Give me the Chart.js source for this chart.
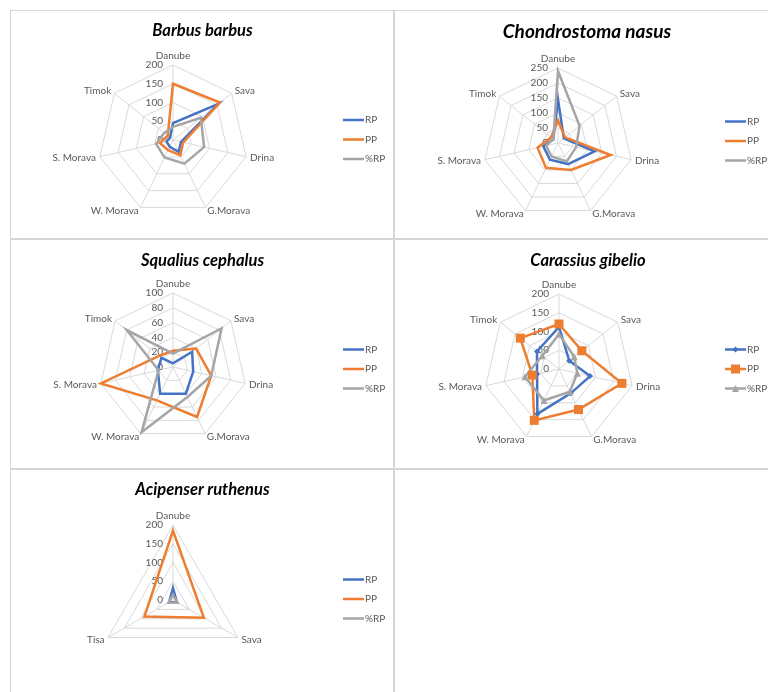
<!DOCTYPE html>
<html>
<head>
<meta charset="utf-8">
<script src="https://cdn.jsdelivr.net/npm/chart.js@4.4.1/dist/chart.umd.min.js"></script>
<style>
  html, body { margin: 0; padding: 0; background: #ffffff; }
  body { width: 768px; height: 692px; position: relative; overflow: hidden; font-family: Lato, sans-serif; }
  canvas { position: absolute; }
  .rule { position: absolute; background: #d6d6d6; }
</style>
</head>
<body>
<!-- panel frame lines -->
<div class="rule" style="left:10px;top:10px;width:758px;height:1px"></div>
<div class="rule" style="left:10px;top:10px;width:1px;height:682px"></div>
<div class="rule" style="left:393px;top:10px;width:2px;height:682px"></div>
<div class="rule" style="left:10px;top:238px;width:758px;height:2px"></div>
<div class="rule" style="left:10px;top:468px;width:758px;height:2px"></div>

<canvas id="barbus"></canvas>
<canvas id="chondrostoma"></canvas>
<canvas id="squalius"></canvas>
<canvas id="carassius"></canvas>
<canvas id="acipenser"></canvas>

<script>
// Rivers (axes) and series names
const rivers = ['Danube', 'Sava', 'Drina', 'G.Morava', 'W. Morava', 'S. Morava', 'Timok'];
const sterletRivers = ['Danube', 'Sava', 'Tisa'];
const seriesNames = ['RP', 'PP', '%RP'];

// Barbus barbus
const barbusRP  = [45, 155, 22, 35, 20, 18, 10];
const barbusPP  = [150, 160, 28, 45, 30, 36, 18];
const barbusPct = [35, 95, 85, 70, 52, 46, 30];
const barbusTicks = [0, 50, 100, 150, 200];

// Chondrostoma nasus
const nasusRP  = [145, 25, 125, 78, 62, 50, 20];
const nasusPP  = [75, 30, 180, 100, 92, 70, 30];
const nasusPct = [240, 92, 62, 68, 50, 40, 20];
const nasusTicks = [0, 50, 100, 150, 200, 250];

// Squalius cephalus
const chubRP  = [5, 33, 28, 40, 40, 21, 20];
const chubPP  = [22, 40, 53, 75, 50, 100, 24];
const chubPct = [18, 84, 53, 45, 98, 20, 80];
const chubTicks = [0, 20, 40, 60, 80, 100];

// Carassius gibelio
const gibelioRP  = [112, 35, 85, 72, 133, 60, 75];
const gibelioPP  = [120, 78, 172, 120, 152, 73, 132];
const gibelioPct = [93, 52, 50, 67, 93, 93, 57];
const gibelioTicks = [0, 50, 100, 150, 200];

// Acipenser ruthenus
const sterletRP  = [32, 12, 12];
const sterletPP  = [185, 95, 88];
const sterletPct = [14, 14, 14];
const sterletTicks = [0, 50, 100, 150, 200];

const COLORS = ['#4472C4', '#ED7D31', '#A5A5A5'];
const TEXT = '#595959';
const GRID = '#d9d9d9';

function drawMarker(ctx, style, x, y, size) {
  ctx.beginPath();
  if (style === 'rect') {
    ctx.rect(x - size / 2, y - size / 2, size, size);
  } else if (style === 'rectRot') {
    ctx.moveTo(x, y - size / 2); ctx.lineTo(x + size / 2, y);
    ctx.lineTo(x, y + size / 2); ctx.lineTo(x - size / 2, y);
    ctx.closePath();
  } else if (style === 'triangle') {
    ctx.moveTo(x, y - size / 2); ctx.lineTo(x + size / 2, y + size / 2);
    ctx.lineTo(x - size / 2, y + size / 2); ctx.closePath();
  }
  ctx.fill();
}

// Axis labels (river names + ring values) under the series lines
const axisText = {
  id: 'axisText',
  beforeDatasetsDraw(chart) {
    const s = chart.scales.r, ctx = chart.ctx;
    ctx.save();
    ctx.fillStyle = TEXT;
    ctx.font = '10px Lato';
    chart.data.labels.forEach((lab, i) => {
      const p = s.getPointPosition(i, s.drawingArea + 4);
      let align = 'center';
      if (p.x > s.xCenter + 1) align = 'left';
      else if (p.x < s.xCenter - 1) align = 'right';
      ctx.textAlign = align;
      ctx.textBaseline = i === 0 ? 'bottom' : 'middle';
      ctx.fillText(lab, p.x, p.y);
    });
    ctx.textAlign = 'right';
    ctx.textBaseline = 'middle';
    s.ticks.forEach(t => {
      const d = s.getDistanceFromCenterForValue(t.value);
      ctx.fillText(t.label, s.xCenter - 10, s.yCenter - d);
    });
    ctx.restore();
  }
};

// Title and legend
const frameText = {
  id: 'frameText',
  afterDraw(chart, args, o) {
    const ctx = chart.ctx;
    ctx.save();
    ctx.fillStyle = '#000000';
    ctx.font = 'italic bold ' + o.titleSize + 'px Lato';
    ctx.textAlign = 'center';
    ctx.textBaseline = 'middle';
    ctx.fillText(o.title, o.titleX, o.titleY);

    ctx.font = '10px Lato';
    ctx.textAlign = 'left';
    chart.data.datasets.forEach((ds, i) => {
      const y = o.legendY + i * 19.5;
      ctx.strokeStyle = ds.borderColor;
      ctx.lineWidth = 2.5;
      ctx.beginPath();
      ctx.moveTo(o.legendX, y);
      ctx.lineTo(o.legendX + 21, y);
      ctx.stroke();
      if (ds.pointRadius > 0) {
        ctx.fillStyle = ds.borderColor;
        drawMarker(ctx, ds.pointStyle, o.legendX + 10.5, y, ds.markerSize);
      }
      ctx.fillStyle = TEXT;
      ctx.fillText(ds.label, o.legendX + 22, y);
    });
    ctx.restore();
  }
};

// Markers drawn at the library's point positions
const markers = {
  id: 'markers',
  afterDatasetsDraw(chart) {
    const ctx = chart.ctx;
    ctx.save();
    chart.data.datasets.forEach((ds, i) => {
      if (!(ds.pointRadius > 0)) return;
      const meta = chart.getDatasetMeta(i);
      ctx.fillStyle = ds.borderColor;
      meta.data.forEach(pt => drawMarker(ctx, ds.pointStyle, pt.x, pt.y, ds.markerSize));
    });
    ctx.restore();
  }
};

function makePanel(cfg) {
  const el = document.getElementById(cfg.id);
  el.width = cfg.w; el.height = cfg.h;
  el.style.left = cfg.left + 'px';
  el.style.top = cfg.top + 'px';
  const cx = cfg.cx - cfg.left, cy = cfg.cy - cfg.top, r = cfg.r;
  const styles = cfg.markers || [null, null, null];
  const sizes = cfg.markerSizes || [0, 0, 0];
  const datasets = cfg.series.map((vals, i) => ({
    label: seriesNames[i],
    data: vals,
    borderColor: COLORS[i],
    backgroundColor: COLORS[i],
    borderWidth: 2.5,
    fill: false,
    tension: 0,
    pointRadius: styles[i] ? 0.01 : 0,
    pointStyle: styles[i] || 'circle',
    markerSize: sizes[i],
    order: 3 - i
  }));
  new Chart(el, {
    type: 'radar',
    data: { labels: cfg.labels, datasets },
    options: {
      responsive: false,
      animation: false,
      devicePixelRatio: 1,
      layout: {
        padding: { left: cx - r, right: cfg.w - (cx + r), top: cy - r, bottom: cfg.h - (cy + r) }
      },
      plugins: {
        legend: { display: false },
        tooltip: { enabled: false },
        frameText: {
          title: cfg.title, titleSize: cfg.titleSize || 16.5,
          titleX: cfg.titleX - cfg.left, titleY: cfg.titleY - cfg.top,
          legendX: cfg.legendX - cfg.left, legendY: cfg.legendY - cfg.top
        }
      },
      scales: {
        r: {
          min: cfg.ticks[0],
          max: cfg.ticks[cfg.ticks.length - 1],
          ticks: { display: false, stepSize: cfg.ticks[1] - cfg.ticks[0] },
          pointLabels: { display: false },
          grid: { color: GRID, lineWidth: 1 },
          angleLines: { color: GRID, lineWidth: 1 }
        }
      }
    },
    plugins: [axisText, markers, frameText]
  });
}

makePanel({
  id: 'barbus', left: 11, top: 11, w: 382, h: 227,
  cx: 173, cy: 140, r: 75,
  title: 'Barbus barbus', titleX: 202.5, titleY: 30.5,
  legendX: 343, legendY: 120,
  labels: rivers, ticks: barbusTicks,
  series: [barbusRP, barbusPP, barbusPct]
});

makePanel({
  id: 'chondrostoma', left: 395, top: 11, w: 373, h: 227,
  cx: 558, cy: 143, r: 75,
  title: 'Chondrostoma nasus', titleX: 587, titleY: 31.5, titleSize: 19,
  legendX: 725, legendY: 121.5,
  labels: rivers, ticks: nasusTicks,
  series: [nasusRP, nasusPP, nasusPct]
});

makePanel({
  id: 'squalius', left: 11, top: 240, w: 382, h: 228,
  cx: 173, cy: 367, r: 74,
  title: 'Squalius cephalus', titleX: 202.5, titleY: 261,
  legendX: 343, legendY: 349.5,
  labels: rivers, ticks: chubTicks,
  series: [chubRP, chubPP, chubPct]
});

makePanel({
  id: 'carassius', left: 395, top: 240, w: 373, h: 228,
  cx: 559, cy: 369, r: 75,
  title: 'Carassius gibelio', titleX: 588, titleY: 261,
  legendX: 725, legendY: 349.5,
  labels: rivers, ticks: gibelioTicks,
  series: [gibelioRP, gibelioPP, gibelioPct],
  markers: ['rectRot', 'rect', 'triangle'],
  markerSizes: [6, 9, 7]
});

makePanel({
  id: 'acipenser', left: 11, top: 470, w: 382, h: 222,
  cx: 173, cy: 600, r: 75,
  title: 'Acipenser ruthenus', titleX: 202.5, titleY: 489.5,
  legendX: 343, legendY: 579.5,
  labels: sterletRivers, ticks: sterletTicks,
  series: [sterletRP, sterletPP, sterletPct]
});
</script>
</body>
</html>
